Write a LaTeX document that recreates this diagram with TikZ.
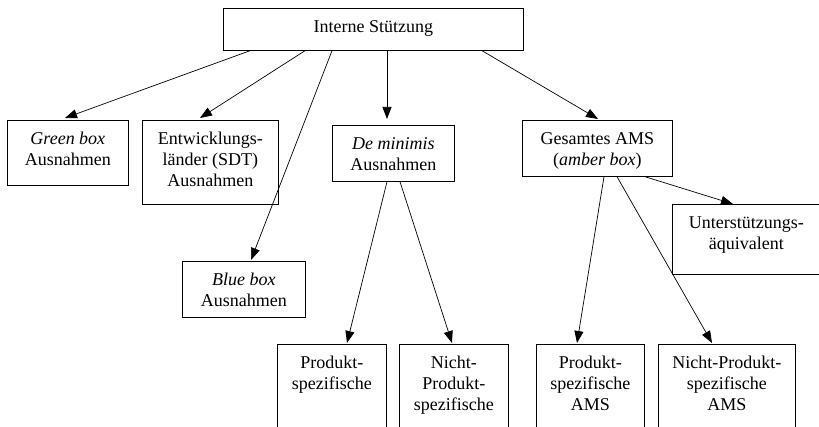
\documentclass[tikz,border=0pt]{standalone}
\usepackage{fontspec}
\setmainfont{Liberation Serif}
\usetikzlibrary{arrows.meta}
\newcommand\bt[3]{\parbox[c][#2pt][t]{#1pt}{\centering\vspace*{9pt}\strut#3\par}}
\begin{document}
\begin{tikzpicture}[x=1pt,y=-1pt,
  box/.style={draw, line width=0.7pt, inner sep=0pt, anchor=north west,
    font=\fontsize{18}{21}\selectfont},
  arr/.style={line width=0.7pt, -{Triangle[length=12pt,width=9pt]}}]
\useasboundingbox (0,0) rectangle (819,427);
\clip (0,0) rectangle (819,427);
\node[box] (top) at (223,8) {\bt{300}{42}{Interne Stützung}};
\node[box] (green) at (7,120) {\bt{121}{65}{\textit{Green box}\\Ausnahmen}};
\node[box] (entw) at (142,120) {\bt{136}{84}{Entwicklungs-\\länder (SDT)\\Ausnahmen}};
\node[box] (demin) at (332,125) {\bt{122}{56}{\textit{De minimis}\\Ausnahmen}};
\node[box] (gesamt) at (522,120) {\bt{150}{56}{Gesamtes AMS\\(\textit{amber box})}};
\node[box] (unter) at (672,204) {\bt{148}{70}{Unterstützungs-\\äquivalent}};
\node[box] (blue) at (182,261) {\bt{123}{56}{\textit{Blue box}\\Ausnahmen}};
\node[box] (prod) at (277,344) {\bt{109}{100}{Produkt-\\spezifische}};
\node[box] (nprod) at (399,344) {\bt{109}{100}{Nicht-\\Produkt-\\spezifische}};
\node[box] (prodams) at (536,344) {\bt{108}{100}{Produkt-\\spezifische\\AMS}};
\node[box] (nprodams) at (658,344) {\bt{137}{100}{Nicht-Produkt-\\spezifische\\AMS}};
\draw[arr] ([xshift=27pt]top.south west) -- ([xshift=58pt,yshift=2pt]green.north west);
\draw[arr] ([xshift=82pt]top.south west) -- ([xshift=58pt,yshift=2pt]entw.north west);
\draw[arr] ([xshift=109pt]top.south west) -- ([xshift=69pt,yshift=1pt]blue.north west);
\draw[arr] ([xshift=164pt]top.south west) -- ([xshift=55pt,yshift=6pt]demin.north west);
\draw[arr] ([xshift=259pt]top.south west) -- ([xshift=76pt,yshift=1pt]gesamt.north west);
\draw[arr] ([xshift=123pt]gesamt.south west) -- ([xshift=61pt]unter.north west);
\draw[arr] ([xshift=82pt]gesamt.south west) -- ([xshift=41pt,yshift=1pt]prodams.north west);
\draw[arr] ([xshift=95pt]gesamt.south west) -- ([xshift=54pt,yshift=1pt]nprodams.north west);
\draw[arr] ([xshift=55pt]demin.south west) -- ([xshift=70pt,yshift=1pt]prod.north west);
\draw[arr] ([xshift=68pt]demin.south west) -- ([xshift=53pt,yshift=1pt]nprod.north west);
\end{tikzpicture}
\end{document}
